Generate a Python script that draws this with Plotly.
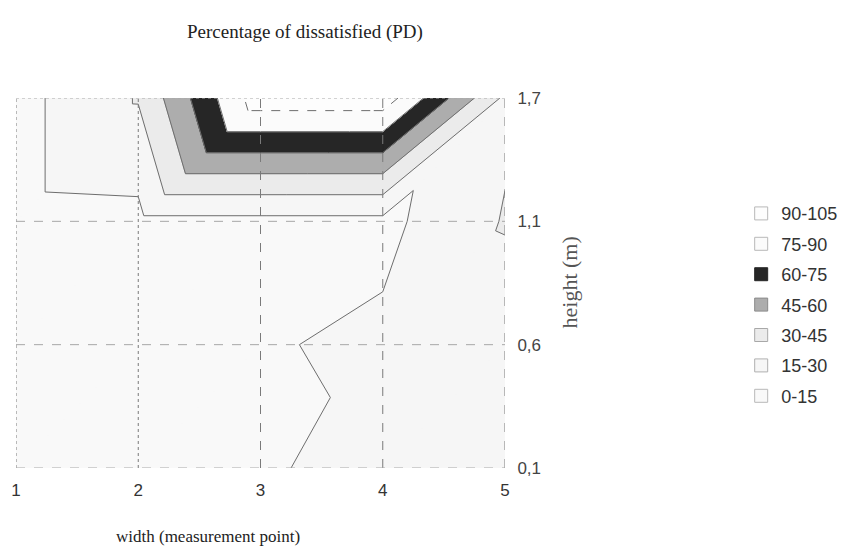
import plotly.graph_objects as go

# Measurement grid: width points (x) and heights in metres (y, equally spaced rows)
width_points = [1, 2, 3, 4, 5]
height_labels = ["0,1", "0,6", "1,1", "1,7"]

# Percentage of dissatisfied at each width point, one list per height
pd_at_h01 = [7, 9, 11, 27, 22]
pd_at_h06 = [8, 10, 13.6, 18, 22]
pd_at_h11 = [10, 11, 11, 11, 31]
pd_at_h17 = [10, 31, 99, 99, 27]

# Contour bands
band_edges = [0, 15, 30, 45, 60, 75, 90, 105]
band_labels = ["0-15", "15-30", "30-45", "45-60", "60-75", "75-90", "90-105"]

band_style = {
    "0-15": dict(fill="#f9f9f9", edge="#b8b8b8"),
    "15-30": dict(fill="#f6f6f6", edge="#b0b0b0"),
    "30-45": dict(fill="#ebebeb", edge="#a8a8a8"),
    "45-60": dict(fill="#adadad", edge="#8a8a8a"),
    "60-75": dict(fill="#262626", edge="#262626"),
    "75-90": dict(fill="#fbfbfb", edge="#b8b8b8"),
    "90-105": dict(fill="#fdfdfd", edge="#b8b8b8"),
}

rows = [pd_at_h01, pd_at_h06, pd_at_h11, pd_at_h17]
row_pos = list(range(len(height_labels)))


def vertex(c, r):
    return (width_points[c], row_pos[r], rows[r][c])


# Each grid cell is split along its lower-left / upper-right diagonal
triangles = []
for r in range(len(rows) - 1):
    for c in range(len(width_points) - 1):
        bl, br = vertex(c, r), vertex(c + 1, r)
        tr, tl = vertex(c + 1, r + 1), vertex(c, r + 1)
        triangles.append([bl, br, tr])
        triangles.append([bl, tr, tl])


def clip(poly, level, keep_above):
    out = []
    n = len(poly)
    for i in range(n):
        p, q = poly[i], poly[(i + 1) % n]
        p_in = p[2] >= level if keep_above else p[2] <= level
        q_in = q[2] >= level if keep_above else q[2] <= level
        if p_in:
            out.append(p)
        if p_in != q_in:
            t = (level - p[2]) / (q[2] - p[2])
            out.append((p[0] + t * (q[0] - p[0]), p[1] + t * (q[1] - p[1]), level))
    return out


fig = go.Figure()

# Filled bands
for k, label in enumerate(band_labels):
    lo, hi = band_edges[k], band_edges[k + 1]
    xs, ys = [], []
    for tri in triangles:
        poly = clip(clip(tri, lo, True), hi, False)
        if len(poly) >= 3:
            xs += [p[0] for p in poly] + [poly[0][0], None]
            ys += [p[1] for p in poly] + [poly[0][1], None]
    fill = band_style[label]["fill"]
    fig.add_trace(go.Scatter(
        x=xs, y=ys, mode="lines", fill="toself", fillcolor=fill,
        line=dict(color=fill, width=1), showlegend=False, hoverinfo="skip"))

# Contour lines between bands
for level in band_edges[1:-1]:
    xs, ys = [], []
    for tri in triangles:
        pts = []
        for i in range(3):
            p, q = tri[i], tri[(i + 1) % 3]
            if (p[2] - level) * (q[2] - level) < 0:
                t = (level - p[2]) / (q[2] - p[2])
                pts.append((p[0] + t * (q[0] - p[0]), p[1] + t * (q[1] - p[1])))
        if len(pts) == 2:
            xs += [pts[0][0], pts[1][0], None]
            ys += [pts[0][1], pts[1][1], None]
    fig.add_trace(go.Scatter(
        x=xs, y=ys, mode="lines",
        line=dict(color="#6e6e6e", width=1, dash="dash" if level == 90 else "solid"),
        showlegend=False, hoverinfo="skip"))

# Legend swatches, highest band first
for label in reversed(band_labels):
    st = band_style[label]
    fig.add_trace(go.Scatter(
        x=[None], y=[None], mode="markers", name=label, legendgroup=label,
        marker=dict(symbol="square", size=13, color=st["fill"],
                    line=dict(color=st["edge"], width=1))))

# Grid lines over the bands
grid = []
for xv in width_points:
    grid.append(dict(type="line", xref="x", yref="y", x0=xv, x1=xv,
                     y0=row_pos[0], y1=row_pos[-1], layer="above",
                     line=dict(color="#7a7a7a", width=1,
                               dash="dot" if xv in (width_points[0], width_points[1]) else "dash")))
for yv in row_pos:
    grid.append(dict(type="line", xref="x", yref="y", x0=width_points[0], x1=width_points[-1],
                     y0=yv, y1=yv, layer="above",
                     line=dict(color="#a8a8a8", width=1,
                               dash="dot" if yv == row_pos[-1] else "dash")))

serif = "Liberation Serif, Times New Roman, serif"
sans = "Liberation Sans, Arial, sans-serif"
no_tick = "rgba(0,0,0,0)"

fig.update_layout(
    width=849, height=553,
    margin=dict(l=16, r=344, t=98, b=85),
    paper_bgcolor="white", plot_bgcolor="white",
    shapes=grid,
    xaxis=dict(range=[width_points[0], width_points[-1]], tickvals=width_points,
               showgrid=False, zeroline=False, showline=False, automargin=False,
               ticks="outside", ticklen=7, tickcolor=no_tick,
               tickfont=dict(family=sans, size=17, color="#333333")),
    yaxis=dict(range=[row_pos[0], row_pos[-1]], tickvals=row_pos, ticktext=height_labels,
               side="right", showgrid=False, zeroline=False, showline=False, automargin=False,
               ticks="outside", ticklen=8, tickcolor=no_tick,
               tickfont=dict(family=sans, size=17, color="#444444")),
    legend=dict(xref="container", yref="container", x=0.873, xanchor="left",
                y=0.647, yanchor="top",
                font=dict(family=sans, size=18, color="#333333"),
                tracegroupgap=4, bgcolor="rgba(0,0,0,0)"),
    annotations=[
        dict(text="Percentage of dissatisfied (PD)", xref="paper", yref="paper",
             x=0.592, y=1.0, yshift=79, showarrow=False,
             font=dict(family=serif, size=19, color="#222222")),
        dict(text="width (measurement point)", xref="paper", yref="paper",
             x=0.393, y=0, yshift=-80, showarrow=False,
             font=dict(family=serif, size=17, color="#222222")),
        dict(text="height (m)", xref="paper", yref="paper", textangle=-90,
             x=1.0, xshift=78, y=0.5, showarrow=False,
             font=dict(family=serif, size=22, color="#555555")),
    ],
)

fig.write_html("out.html")
